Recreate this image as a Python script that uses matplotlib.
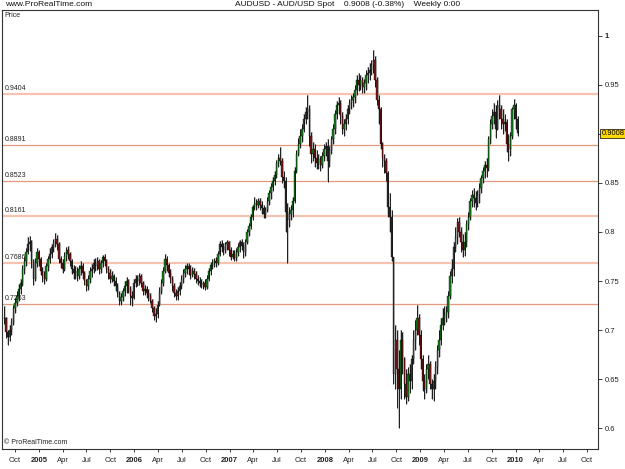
import numpy as np
import pandas as pd
import matplotlib
matplotlib.use('Agg')
import matplotlib.pyplot as plt
import matplotlib.dates as mdates

# Weekly AUD/USD candles (open = previous close).

first_week = '2004-08-20'

close = [
    0.712, 0.698, 0.693, 0.700, 0.708, 0.722, 0.728, 0.735, 0.742, 0.748,
    0.762, 0.770, 0.780, 0.788, 0.790, 0.770, 0.752, 0.768, 0.780, 0.772,
    0.760, 0.755, 0.752, 0.765, 0.772, 0.778, 0.785, 0.790, 0.793, 0.788,
    0.772, 0.768, 0.762, 0.776, 0.782, 0.778, 0.770, 0.762, 0.758, 0.760,
    0.755, 0.762, 0.765, 0.758, 0.750, 0.745, 0.752, 0.760, 0.762, 0.768,
    0.765, 0.770, 0.762, 0.768, 0.774, 0.770, 0.762, 0.758, 0.752, 0.755,
    0.750, 0.745, 0.738, 0.730, 0.734, 0.740, 0.745, 0.750, 0.742, 0.735,
    0.733, 0.748, 0.752, 0.750, 0.755, 0.748, 0.740, 0.742, 0.738, 0.735,
    0.730, 0.722, 0.714, 0.716, 0.726, 0.740, 0.748, 0.760, 0.772, 0.766,
    0.758, 0.752, 0.745, 0.738, 0.735, 0.740, 0.745, 0.752, 0.758, 0.762,
    0.765, 0.762, 0.756, 0.760, 0.757, 0.752, 0.750, 0.748, 0.746, 0.748,
    0.744, 0.752, 0.760, 0.766, 0.768, 0.770, 0.768, 0.778, 0.788, 0.785,
    0.782, 0.788, 0.790, 0.782, 0.775, 0.778, 0.773, 0.780, 0.785, 0.790,
    0.786, 0.780, 0.790, 0.800, 0.806, 0.815, 0.825, 0.830, 0.828, 0.832,
    0.828, 0.824, 0.818, 0.822, 0.832, 0.840, 0.846, 0.852, 0.858, 0.870,
    0.876, 0.872, 0.856, 0.852, 0.820, 0.812, 0.818, 0.822, 0.832, 0.862,
    0.880, 0.890, 0.898, 0.905, 0.915, 0.922, 0.925, 0.898, 0.880, 0.885,
    0.875, 0.870, 0.874, 0.868, 0.878, 0.885, 0.888, 0.872, 0.884, 0.895,
    0.905, 0.920, 0.930, 0.932, 0.918, 0.905, 0.910, 0.915, 0.925, 0.932,
    0.935, 0.938, 0.945, 0.955, 0.950, 0.955, 0.948, 0.952, 0.960, 0.962,
    0.965, 0.970, 0.975, 0.955, 0.935, 0.925, 0.890, 0.875, 0.872, 0.860,
    0.825, 0.815, 0.775, 0.655, 0.690, 0.660, 0.640, 0.690, 0.670, 0.645,
    0.632, 0.655, 0.648, 0.670, 0.690, 0.700, 0.712, 0.695, 0.670, 0.648,
    0.640, 0.660, 0.665, 0.645, 0.640, 0.648, 0.662, 0.680, 0.690, 0.705,
    0.712, 0.715, 0.718, 0.735, 0.755, 0.762, 0.785, 0.795, 0.810, 0.800,
    0.790, 0.782, 0.790, 0.808, 0.815, 0.832, 0.838, 0.835, 0.830, 0.838,
    0.845, 0.855, 0.862, 0.868, 0.865, 0.895, 0.910, 0.918, 0.922, 0.905,
    0.930, 0.925, 0.915, 0.910, 0.912, 0.890, 0.885, 0.898, 0.925, 0.930,
    0.915, 0.9008,
]

high = [
    0.724, 0.713, 0.700, 0.705, 0.712, 0.726, 0.733, 0.740, 0.747, 0.752,
    0.766, 0.775, 0.784, 0.795, 0.796, 0.792, 0.772, 0.773, 0.784, 0.782,
    0.775, 0.764, 0.760, 0.768, 0.776, 0.784, 0.788, 0.793, 0.799, 0.797,
    0.790, 0.776, 0.772, 0.780, 0.785, 0.786, 0.780, 0.772, 0.766, 0.765,
    0.764, 0.766, 0.770, 0.768, 0.760, 0.752, 0.756, 0.764, 0.767, 0.772,
    0.773, 0.774, 0.772, 0.771, 0.777, 0.778, 0.772, 0.765, 0.762, 0.760,
    0.757, 0.754, 0.748, 0.740, 0.738, 0.743, 0.750, 0.754, 0.752, 0.745,
    0.740, 0.752, 0.756, 0.756, 0.758, 0.757, 0.750, 0.746, 0.745, 0.742,
    0.738, 0.732, 0.725, 0.722, 0.730, 0.744, 0.752, 0.764, 0.778, 0.776,
    0.768, 0.762, 0.755, 0.748, 0.742, 0.744, 0.749, 0.756, 0.762, 0.766,
    0.768, 0.768, 0.766, 0.764, 0.763, 0.760, 0.756, 0.754, 0.752, 0.750,
    0.752, 0.756, 0.763, 0.769, 0.772, 0.773, 0.774, 0.781, 0.791, 0.792,
    0.789, 0.790, 0.792, 0.791, 0.785, 0.782, 0.782, 0.784, 0.789, 0.792,
    0.793, 0.790, 0.793, 0.803, 0.809, 0.818, 0.828, 0.836, 0.834, 0.835,
    0.835, 0.832, 0.828, 0.826, 0.836, 0.843, 0.850, 0.856, 0.862, 0.873,
    0.880, 0.887, 0.876, 0.862, 0.856, 0.830, 0.826, 0.828, 0.836, 0.866,
    0.884, 0.896, 0.905, 0.910, 0.920, 0.928, 0.940, 0.930, 0.902, 0.892,
    0.890, 0.884, 0.880, 0.878, 0.882, 0.890, 0.892, 0.895, 0.888, 0.898,
    0.910, 0.924, 0.934, 0.938, 0.935, 0.922, 0.915, 0.920, 0.930, 0.936,
    0.940, 0.942, 0.950, 0.960, 0.962, 0.960, 0.958, 0.956, 0.965, 0.968,
    0.972, 0.975, 0.986, 0.980, 0.958, 0.940, 0.928, 0.892, 0.880, 0.876,
    0.862, 0.840, 0.822, 0.775, 0.705, 0.700, 0.680, 0.700, 0.698, 0.672,
    0.660, 0.662, 0.665, 0.675, 0.700, 0.710, 0.726, 0.716, 0.700, 0.675,
    0.655, 0.665, 0.675, 0.668, 0.650, 0.655, 0.668, 0.685, 0.700, 0.712,
    0.722, 0.725, 0.724, 0.740, 0.760, 0.772, 0.790, 0.805, 0.814, 0.815,
    0.805, 0.798, 0.800, 0.812, 0.820, 0.835, 0.843, 0.845, 0.842, 0.843,
    0.850, 0.858, 0.866, 0.872, 0.876, 0.898, 0.915, 0.925, 0.932, 0.930,
    0.935, 0.940, 0.930, 0.925, 0.920, 0.915, 0.900, 0.902, 0.928, 0.936,
    0.932, 0.918,
]

low = [
    0.706, 0.692, 0.685, 0.689, 0.695, 0.705, 0.717, 0.724, 0.730, 0.737,
    0.745, 0.757, 0.765, 0.778, 0.781, 0.763, 0.746, 0.750, 0.764, 0.765,
    0.756, 0.749, 0.747, 0.750, 0.760, 0.768, 0.773, 0.780, 0.785, 0.782,
    0.768, 0.763, 0.758, 0.760, 0.770, 0.772, 0.765, 0.757, 0.752, 0.752,
    0.750, 0.752, 0.756, 0.752, 0.746, 0.740, 0.741, 0.748, 0.754, 0.758,
    0.760, 0.761, 0.757, 0.758, 0.764, 0.765, 0.758, 0.752, 0.748, 0.749,
    0.745, 0.740, 0.734, 0.726, 0.726, 0.730, 0.735, 0.738, 0.738, 0.726,
    0.724, 0.732, 0.744, 0.745, 0.746, 0.744, 0.736, 0.736, 0.733, 0.730,
    0.728, 0.718, 0.710, 0.708, 0.712, 0.724, 0.737, 0.745, 0.758, 0.760,
    0.754, 0.748, 0.740, 0.734, 0.731, 0.731, 0.736, 0.742, 0.748, 0.754,
    0.757, 0.756, 0.752, 0.754, 0.752, 0.748, 0.746, 0.744, 0.743, 0.742,
    0.741, 0.742, 0.750, 0.756, 0.762, 0.764, 0.764, 0.766, 0.776, 0.780,
    0.777, 0.779, 0.782, 0.776, 0.771, 0.772, 0.770, 0.770, 0.776, 0.780,
    0.782, 0.773, 0.776, 0.788, 0.796, 0.803, 0.812, 0.822, 0.822, 0.824,
    0.822, 0.818, 0.814, 0.814, 0.820, 0.828, 0.834, 0.842, 0.848, 0.855,
    0.866, 0.868, 0.850, 0.845, 0.800, 0.768, 0.805, 0.812, 0.815, 0.830,
    0.860, 0.878, 0.886, 0.892, 0.902, 0.910, 0.915, 0.888, 0.870, 0.872,
    0.866, 0.864, 0.864, 0.862, 0.865, 0.872, 0.878, 0.851, 0.866, 0.880,
    0.890, 0.900, 0.915, 0.920, 0.910, 0.900, 0.898, 0.904, 0.910, 0.920,
    0.926, 0.928, 0.932, 0.940, 0.944, 0.945, 0.942, 0.942, 0.945, 0.952,
    0.955, 0.960, 0.962, 0.948, 0.930, 0.910, 0.885, 0.866, 0.860, 0.852,
    0.815, 0.800, 0.770, 0.645, 0.640, 0.620, 0.600, 0.630, 0.655, 0.630,
    0.625, 0.628, 0.636, 0.640, 0.665, 0.680, 0.695, 0.685, 0.660, 0.638,
    0.630, 0.636, 0.650, 0.640, 0.630, 0.628, 0.640, 0.655, 0.672, 0.685,
    0.700, 0.705, 0.708, 0.712, 0.732, 0.748, 0.755, 0.780, 0.788, 0.795,
    0.780, 0.775, 0.776, 0.785, 0.802, 0.812, 0.826, 0.825, 0.822, 0.825,
    0.830, 0.840, 0.850, 0.855, 0.856, 0.862, 0.890, 0.905, 0.910, 0.896,
    0.904, 0.915, 0.905, 0.900, 0.903, 0.882, 0.872, 0.878, 0.895, 0.915,
    0.905, 0.898,
]

levels = [0.9404, 0.8891, 0.8523, 0.8161, 0.7686, 0.7263]
level_labels = ['0.9404', '0.8891', '0.8523', '0.8161', '0.7686', '0.7263']
level_light = [True, False, False, True, True, False]

price_ticks = [0.6, 0.65, 0.7, 0.75, 0.8, 0.85, 0.9, 0.95, 1.0]
price_tick_labels = ['0.6', '0.65', '0.7', '0.75', '0.8', '0.85', '', '0.95', '1']

last_price = '0.9008'
title = 'AUDUSD - AUD/USD Spot    0.9008 (-0.38%)    Weekly 0:00'

plt.rcParams['font.family'] = ['Liberation Sans Narrow', 'Liberation Sans', 'DejaVu Sans']

dates = pd.date_range(first_week, periods=len(close), freq='W-FRI')
x = mdates.date2num(dates)
close = np.array(close)
high = np.array(high)
low = np.array(low)
opens = np.concatenate([[close[0]], close[:-1]])

fig = plt.figure(figsize=(6.25, 4.69), dpi=100)
fig.patch.set_facecolor('white')
ax = fig.add_axes([2 / 625, 1 - 449 / 469, 596 / 625, 439 / 469])

# Support / resistance lines and their labels.
for lv, lab, light in zip(levels, level_labels, level_light):
    ax.axhline(lv, color='#f7c2b0' if light else '#e39a7c',
               lw=1.6 if light else 0.9, zorder=1)
    ax.text(0.004, lv + 0.002, lab, transform=ax.get_yaxis_transform(),
            fontsize=5, color='#222222', va='bottom', ha='left', zorder=5)

# Candles: grey shadow, black wick, coloured body.
ax.vlines(x + 2.5, low, high, color='#b8b8b8', lw=1.1, zorder=2)
ax.vlines(x, low, high, color='black', lw=0.6, zorder=3)
up = close >= opens
body_col = np.where(up, '#16801a', '#801818')
ax.bar(x, close - opens, bottom=opens, width=5.0, color=body_col,
       edgecolor='black', linewidth=0.25, zorder=4)

ax.set_xlim(mdates.datestr2num('2004-08-12'), mdates.datestr2num('2010-11-12'))
ax.set_ylim(0.5786, 1.0265)

# Price axis on the right.
ax.yaxis.tick_right()
ax.set_yticks(price_ticks)
ax.set_yticklabels(price_tick_labels)
ax.tick_params(axis='y', direction='out', length=3, width=0.6, pad=2,
               labelsize=5.5, colors='#222222')
for t in ax.get_yticklabels():
    if t.get_text() == '1':
        t.set_fontweight('bold')

# Time axis: quarters, years in bold.
tick_dates = pd.date_range('2004-10-01', '2010-10-01', freq='QS-JAN')
ax.set_xticks(mdates.date2num(tick_dates))
ax.set_xticklabels([str(d.year) if d.month == 1 else d.strftime('%b') for d in tick_dates])
ax.tick_params(axis='x', direction='out', length=2.5, width=0.6, pad=3,
               labelsize=5.5, colors='#222222')
for t, d in zip(ax.get_xticklabels(), tick_dates):
    if d.month == 1:
        t.set_fontweight('bold')

for s in ax.spines.values():
    s.set_color('#333333')
    s.set_linewidth(0.8)

ax.text(1.006, 0.9008, last_price, transform=ax.get_yaxis_transform(),
        fontsize=5.5, va='center', ha='left', zorder=6,
        bbox=dict(boxstyle='square,pad=0.15', facecolor='#ffd800',
                  edgecolor='black', linewidth=0.5))

ax.text(0.004, 0.995, 'Price', transform=ax.transAxes, fontsize=5,
        va='top', ha='left', color='#222222')
ax.text(0.004, 0.006, '\u00a9 ProRealTime.com', transform=ax.transAxes,
        fontsize=5, va='bottom', ha='left', color='#222222')

fig.text(5 / 625, 1 - 5 / 469, 'www.ProRealTime.com', fontsize=6,
         va='center', ha='left', color='#111111')
fig.text(348 / 625, 1 - 5 / 469, title, fontsize=6, va='center',
         ha='center', color='#111111')

fig.savefig('out.png', dpi=100, facecolor='white')
